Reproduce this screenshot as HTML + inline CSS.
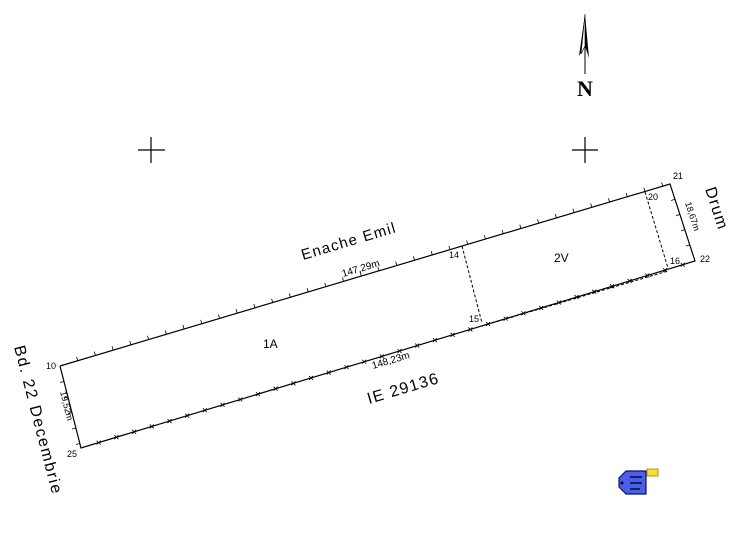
<!DOCTYPE html>
<html><head><meta charset="utf-8"><style>
html,body{margin:0;padding:0;background:#fff;width:733px;height:547px;overflow:hidden}
svg{display:block}
text{font-family:"Liberation Sans",sans-serif;fill:#000}
</style></head><body>
<svg id="s" width="733" height="547" viewBox="0 0 733 547" xmlns="http://www.w3.org/2000/svg">
<g stroke="#000" stroke-width="1.2" fill="none">
<polyline points="60,366 670,184 695,261 81,448 60,366"/>
</g>
<g stroke="#000" stroke-width="1" stroke-dasharray="3,2" fill="none">
<line x1="462" y1="246" x2="482" y2="323"/>
<line x1="645" y1="192" x2="668" y2="268"/>
<line x1="482" y1="326" x2="668" y2="271"/>
</g>
<g id="ticks" stroke="#000" stroke-width="0.8"></g>
<g stroke="#000" stroke-width="1.2">
<line x1="138" y1="150" x2="165" y2="150"/><line x1="151" y1="137" x2="151" y2="163"/>
<line x1="572" y1="150" x2="598" y2="150"/><line x1="585" y1="137" x2="585" y2="163"/>
</g>
<line x1="585" y1="40" x2="585" y2="74" stroke="#000" stroke-width="1"/>
<polygon points="585,14 579,56 585,46 589,58" fill="#000"/>
<polygon points="585,14 581,54 585,46" fill="#fff" stroke="#000" stroke-width="0.6"/>
<text x="585" y="96" font-weight="bold" font-size="22" text-anchor="middle" style="font-family:'Liberation Serif',serif">N</text>
<text font-size="9" x="46" y="369">10</text>
<text font-size="9" x="67" y="457">25</text>
<text font-size="9" x="673" y="179">21</text>
<text font-size="9" x="700" y="262">22</text>
<text font-size="9" x="449" y="258">14</text>
<text font-size="9" x="469" y="322">15</text>
<text font-size="9" x="648" y="200">20</text>
<text font-size="9" x="670" y="264">16</text>
<text font-size="12" x="263" y="348">1A</text>
<text font-size="12" x="554" y="262">2V</text>
<g style="fill:#111">
<text font-size="15" transform="translate(303,260) rotate(-16.6)" letter-spacing="1.3">Enache  Emil</text>
<text font-size="10" transform="translate(343,277) rotate(-16.6)">147,29m</text>
<text font-size="10" transform="translate(373,369) rotate(-16.6)">148,23m</text>
<text font-size="16" transform="translate(369,404) rotate(-16.6)" letter-spacing="1.3">IE  29136</text>
<text font-size="16" transform="translate(14,347) rotate(75.5)" letter-spacing="1.6">Bd.  22  Decembrie</text>
<text font-size="16" transform="translate(705,189) rotate(72)" letter-spacing="1.3">Drum</text>
<text font-size="9" transform="translate(60,392) rotate(76)">19,52m</text>
<text font-size="9" transform="translate(685,203) rotate(72)">18,67m</text>
</g>
<g>
<path d="M626,471 L646,471 L646,494 L626,494 L619,487 L619,478 Z" fill="#4a5ee8" stroke="#0a1560" stroke-width="1.2"/>
<line x1="630" y1="477" x2="642" y2="477" stroke="#0a1040" stroke-width="1.6"/>
<line x1="630" y1="483" x2="642" y2="483" stroke="#0a1040" stroke-width="1.6"/>
<line x1="630" y1="489" x2="640" y2="489" stroke="#0a1040" stroke-width="1.6"/>
<circle cx="622" cy="483" r="1.5" fill="#000"/>
<rect x="647" y="469" width="11" height="7" fill="#f5e030" stroke="#a08000" stroke-width="0.8"/>
</g>
</svg>
<script>
(function(){
var g=document.getElementById('ticks');var ns="http://www.w3.org/2000/svg";
function ln(a,b,c,d){var l=document.createElementNS(ns,'line');l.setAttribute('x1',a);l.setAttribute('y1',b);l.setAttribute('x2',c);l.setAttribute('y2',d);g.appendChild(l);}
function edge(x1,y1,x2,y2,step,type,side){var dx=x2-x1,dy=y2-y1,L=Math.hypot(dx,dy),ux=dx/L,uy=dy/L,nx=uy*side,ny=-ux*side;
for(var t=step;t<L-4;t+=step){var x=x1+ux*t,y=y1+uy*t;
if(type==0){ln(x,y,x+nx*4,y+ny*4);}else{ln(x-2,y-2,x+2,y+2);ln(x-2,y+2,x+2,y-2);}}}
edge(60,366,670,184,18.5,0,1);
edge(81,448,695,261,18.5,1,1);
edge(60,366,81,448,16,0,-1);
edge(670,184,695,261,16,0,-1);
})();
</script>
</body></html>
